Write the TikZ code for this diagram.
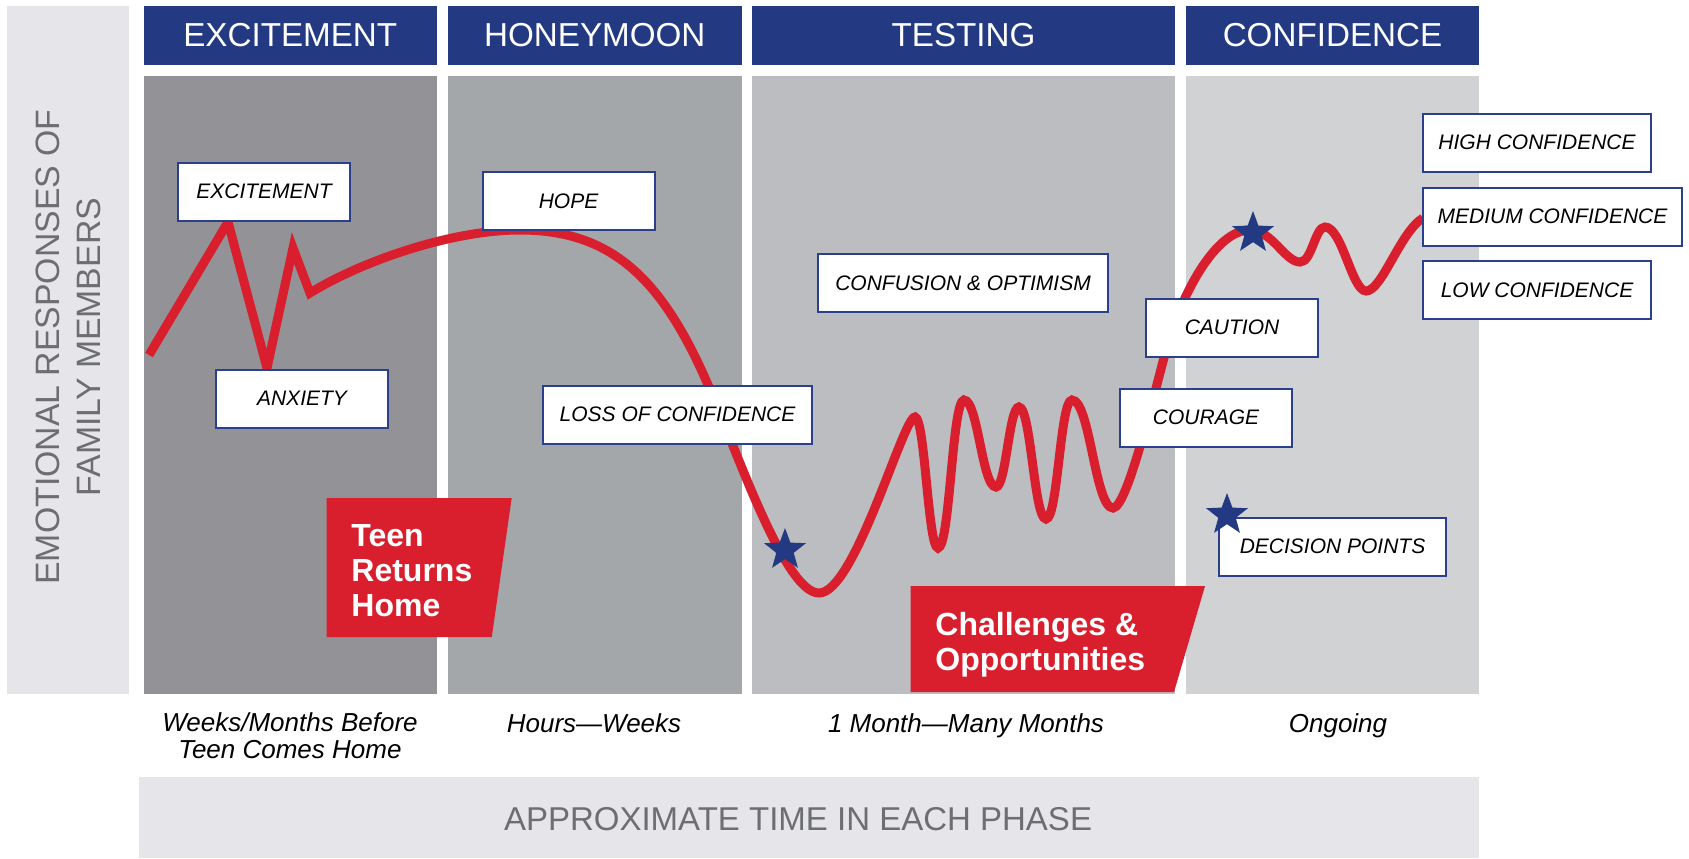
\documentclass[tikz,border=0pt]{standalone}
\usepackage{fontspec}
\setmainfont{Liberation Sans}
\usetikzlibrary{shapes.geometric}
\definecolor{hdblue}{HTML}{233A83}
\definecolor{lineblue}{HTML}{2B3F8F}
\definecolor{curvered}{HTML}{D91F2D}
\definecolor{panelA}{HTML}{939397}
\definecolor{panelB}{HTML}{A3A7AA}
\definecolor{panelC}{HTML}{BCBDC1}
\definecolor{panelD}{HTML}{D1D2D4}
\definecolor{sidegray}{HTML}{E6E6EA}
\definecolor{axistext}{HTML}{6D6E71}
\begin{document}
\begin{tikzpicture}[x=0.5pt,y=-0.5pt,
    headbar/.style={fill=hdblue,text=white,inner sep=0pt,minimum height=29.5pt,
      font=\fontsize{16.6}{18}\selectfont},
    feeling/.style={draw=lineblue,fill=white,line width=1pt,minimum width=86pt,
      minimum height=29pt,inner sep=0pt,font=\itshape\fontsize{10.5}{12}\selectfont},
    timelbl/.style={align=center,inner sep=0pt,font=\itshape\fontsize{13}{13.5}\selectfont},
    callout/.style={text=white,align=left,inner sep=0pt,
      font=\bfseries\fontsize{16}{17.5}\selectfont},
    dpstar/.style={star,star points=5,star point ratio=2.4,fill=hdblue,
      inner sep=0pt,minimum size=22pt},
    curve/.style={curvered,line width=4.5pt,line join=miter}]
  \useasboundingbox (0,0) rectangle (1689,858);

  % side and bottom bands
  \fill[sidegray] (7,6) rectangle (129,694);
  \fill[sidegray] (139,777) rectangle (1479,858);
  \node[rotate=90,align=center,text=axistext,inner sep=0pt,
    font=\fontsize{16.9}{20.5}\selectfont] (ylab) at (68.5,347)
    {EMOTIONAL RESPONSES OF\\FAMILY MEMBERS};
  \node[text=axistext,inner sep=0pt,font=\fontsize{16.5}{18}\selectfont] (xlab)
    at (798,819) {APPROXIMATE TIME IN EACH PHASE};

  % phase columns
  \fill[panelA] (143.5,76) rectangle (437,694);
  \fill[panelB] (448,76) rectangle (741.5,694);
  \fill[panelC] (752,76) rectangle (1175,694);
  \fill[panelD] (1186,76) rectangle (1479,694);
  \node[headbar,minimum width=146.75pt] (hExc) at (290.25,35.5) {EXCITEMENT};
  \node[headbar,minimum width=146.75pt] (hHon) at (594.75,35.5) {HONEYMOON};
  \node[headbar,minimum width=211.5pt] (hTest) at (963.5,35.5) {TESTING};
  \node[headbar,minimum width=146.5pt] (hConf) at (1332.5,35.5) {CONFIDENCE};

  % red callouts
  \fill[curvered] (326.5,498) -- (511.7,498) -- (491.8,637) -- (326.5,637) -- cycle;
  \node[callout,anchor=west] (teen) at (351,571) {Teen\\Returns\\Home};
  \fill[curvered] (910.6,586) -- (1205,586) -- (1174,692) -- (910.6,692) -- cycle;
  \node[callout,anchor=west] (chal) at (935,644.5) {Challenges \&\\Opportunities};

  % emotional curve
  \draw[curve] (149,355) -- (228,222) -- (267,368) -- (293,248) -- (310,293)
    .. controls (360,262) and (450,230) .. (520,230)
    .. controls (610,230) and (660,277) .. (705,378)
    .. controls (735,445) and (784,593) .. (819,593)
    .. controls (855,593) and (903,417) .. (915,417)
    .. controls (925,417) and (928,548) .. (938,548)
    .. controls (950,548) and (952,400) .. (964,400)
    .. controls (978,400) and (982,487) .. (996,487)
    .. controls (1006,487) and (1009,407) .. (1019,407)
    .. controls (1031,407) and (1034,519) .. (1046,519)
    .. controls (1058,519) and (1060,400) .. (1072,400)
    .. controls (1090,400) and (1095,508) .. (1113,508)
    .. controls (1128,508) and (1157,381) .. (1168,343)
    .. controls (1182,295) and (1215,230) .. (1250,230)
    .. controls (1272,230) and (1285,262) .. (1300,262)
    .. controls (1312,262) and (1315,227) .. (1325,227)
    .. controls (1342,227) and (1352,291) .. (1366,291)
    .. controls (1382,291) and (1400,232) .. (1423,218);

  % feelings
  \node[feeling] (excite) at (264,191.5) {EXCITEMENT};
  \node[feeling] (anxiety) at (302,398.5) {ANXIETY};
  \node[feeling] (hope) at (568.5,201) {HOPE};
  \node[feeling,minimum width=145pt] (confus) at (963,283) {CONFUSION \& OPTIMISM};
  \node[feeling,minimum width=134.5pt] (loss) at (677.5,414.5) {LOSS OF CONFIDENCE};
  \node[feeling] (caution) at (1232,327.5) {CAUTION};
  \node[feeling] (courage) at (1206,417.5) {COURAGE};
  \node[feeling,minimum width=114pt] (highc) at (1537,142.5) {HIGH CONFIDENCE};
  \node[feeling,minimum width=129.5pt] (medc) at (1552.5,216.5) {MEDIUM CONFIDENCE};
  \node[feeling,minimum width=114pt] (lowc) at (1537,290) {LOW CONFIDENCE};
  \node[feeling,minimum width=113.5pt] (decide) at (1332.5,546.5) {DECISION POINTS};

  % decision stars
  \node[dpstar] (dropstar) at (785,550) {};
  \node[dpstar] (topstar) at (1253,233) {};
  \node[dpstar] (keystar) at (1227,515) {};

  % time in each phase
  \node[timelbl] (tExc) at (290,736) {Weeks/Months Before\\Teen Comes Home};
  \node[timelbl,anchor=base] (tHon) at (594,732) {Hours—Weeks};
  \node[timelbl,anchor=base] (tTest) at (966,732) {1 Month—Many Months};
  \node[timelbl,anchor=base] (tConf) at (1338,732) {Ongoing};
\end{tikzpicture}
\end{document}
